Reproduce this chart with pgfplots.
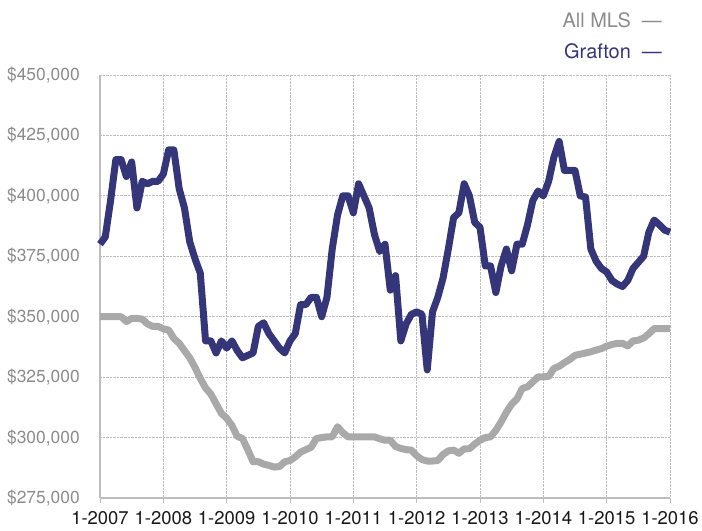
\documentclass[border=0pt]{standalone}
\usepackage{pgfplots}
\pgfplotsset{compat=1.18}
\usepackage{fontspec}
\setmainfont{TeX Gyre Heros}
\definecolor{navy}{HTML}{35367A}
\definecolor{mlsgray}{HTML}{A9A9A9}
\definecolor{axgray}{HTML}{BDBDBD}
\definecolor{labgray}{HTML}{8C8C8C}
\begin{document}
\begin{tikzpicture}
\useasboundingbox (-100bp,-33bp) rectangle (602bp,498bp);
\begin{axis}[
  scale only axis, width=570bp, height=423bp,
  at={(0,0)}, anchor=south west,
  xmin=0, xmax=108, ymin=275000, ymax=450000,
  axis x line*=bottom, axis y line*=left,
  axis line style={-, draw=axgray, line width=2.5bp},
  xtick={0,12,...,108},
  xticklabels={1-2007,1-2008,1-2009,1-2010,1-2011,1-2012,1-2013,1-2014,1-2015,1-2016},
  ytick={275000,300000,325000,350000,375000,400000,425000,450000},
  yticklabels={{\$275,000},{\$300,000},{\$325,000},{\$350,000},{\$375,000},{\$400,000},{\$425,000},{\$450,000}},
  scaled y ticks=false,
  grid=major,
  major grid style={densely dotted, draw=axgray, line width=0.8bp},
  tick align=outside, major tick length=5bp,
  tick style={draw=axgray, line width=0.8bp},
  ytick style={draw=none},
  yticklabel style={font=\fontsize{17.5}{19}\selectfont, text=labgray, inner sep=0pt, xshift=-15bp},
  xticklabel style={font=\fontsize{18.5}{20}\selectfont, text=black!90, inner sep=0pt, yshift=-8bp},
  clip=false,
]
\addplot[mlsgray, line width=7bp, line join=round] coordinates {
(0,350000)(1,350000)(2,350000)(3,350000)(4,350000)(5,348000)(6,349300)(7,349300)(8,349000)(9,347000)
(10,346000)(11,346000)(12,345000)(13,344500)(14,341000)(15,339000)(16,336000)(17,333000)(18,329000)(19,324500)
(20,320500)(21,318000)(22,314000)(23,310000)(24,308000)(25,305000)(26,300500)(27,299600)(28,295000)(29,290000)
(30,290000)(31,289000)(32,288500)(33,287800)(34,288000)(35,290000)(36,290500)(37,292000)(38,294000)(39,295000)
(40,296000)(41,299600)(42,300000)(43,300300)(44,300300)(45,304500)(46,302000)(47,300300)(48,300300)(49,300300)
(50,300300)(51,300300)(52,300300)(53,299500)(54,298900)(55,298900)(56,296300)(57,295500)(58,295000)(59,294800)
(60,292500)(61,290900)(62,290300)(63,290300)(64,290500)(65,293000)(66,294500)(67,294800)(68,293500)(69,295300)
(70,295400)(71,297300)(72,298900)(73,300000)(74,300300)(75,303000)(76,306500)(77,310500)(78,313800)(79,316000)
(80,320300)(81,321000)(82,323000)(83,325100)(84,325100)(85,325300)(86,328600)(87,329500)(88,331000)(89,332300)
(90,334000)(91,334500)(92,335000)(93,335500)(94,336200)(95,336800)(96,337800)(97,338500)(98,339000)(99,339000)
(100,337900)(101,340000)(102,340300)(103,341200)(104,343000)(105,345100)(106,345100)(107,345100)(108,345100)
};
\addplot[navy, line width=7bp, line join=round] coordinates {
(0,380000)(1,383000)(2,398000)(3,415000)(4,415000)(5,408000)(6,414000)(7,395000)(8,406000)(9,405000)
(10,406000)(11,406000)(12,409000)(13,419000)(14,419000)(15,403000)(16,395000)(17,381000)(18,374000)(19,368000)
(20,340000)(21,340000)(22,335000)(23,340000)(24,337000)(25,340000)(26,336000)(27,333000)(28,334000)(29,335000)
(30,346000)(31,347500)(32,343000)(33,340000)(34,337000)(35,335000)(36,340000)(37,343000)(38,355000)(39,355000)
(40,358000)(41,358000)(42,350000)(43,358000)(44,378000)(45,392000)(46,400000)(47,400000)(48,393000)(49,405000)
(50,400000)(51,395000)(52,384000)(53,377000)(54,380000)(55,361000)(56,367000)(57,340000)(58,347000)(59,351000)
(60,352000)(61,351000)(62,328000)(63,352000)(64,358000)(65,366000)(66,378000)(67,391000)(68,393000)(69,405000)
(70,400000)(71,389000)(72,387000)(73,371000)(74,371000)(75,360000)(76,371000)(77,378000)(78,369000)(79,380000)
(80,380000)(81,388000)(82,398000)(83,402000)(84,400000)(85,406000)(86,416000)(87,422500)(88,410500)(89,410500)
(90,410500)(91,400000)(92,399500)(93,378000)(94,373000)(95,370000)(96,368500)(97,365000)(98,363500)(99,362500)
(100,365000)(101,370000)(102,372500)(103,375000)(104,385000)(105,390000)(106,388000)(107,385800)(108,385000)
};
\end{axis}
\node[anchor=base east, text=labgray, font=\fontsize{20}{22}\selectfont, inner sep=0pt] at (562bp,470bp) {All MLS\hspace{11bp}—};
\node[anchor=base east, text=navy, font=\fontsize{20}{22}\selectfont, inner sep=0pt] at (562bp,439bp) {Grafton\hspace{11bp}—};
\end{tikzpicture}
\end{document}
